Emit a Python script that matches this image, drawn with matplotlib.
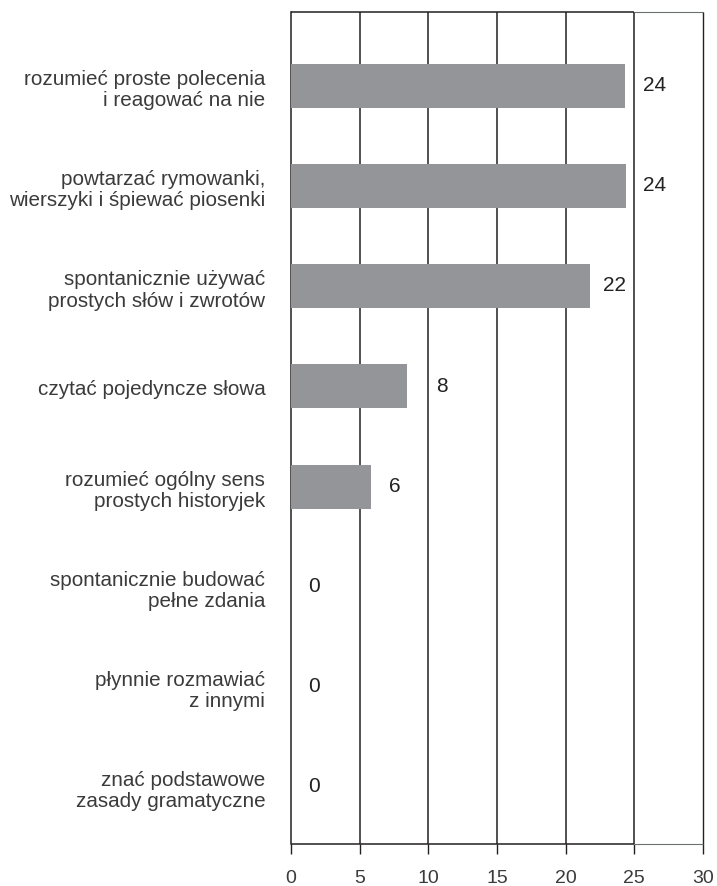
import matplotlib
matplotlib.use("Agg")
import matplotlib.pyplot as plt

# dane
categories = [
    "rozumieć proste polecenia\ni reagować na nie",
    "powtarzać rymowanki,\nwierszyki i śpiewać piosenki",
    "spontanicznie używać\nprostych słów i zwrotów",
    "czytać pojedyncze słowa",
    "rozumieć ogólny sens\nprostych historyjek",
    "spontanicznie budować\npełne zdania",
    "płynnie rozmawiać\nz innymi",
    "znać podstawowe\nzasady gramatyczne",
]
bar_values = [24.3, 24.4, 21.8, 8.45, 5.8, 0, 0, 0]
value_labels = ["24", "24", "22", "8", "6", "0", "0", "0"]
x_ticks = [0, 5, 10, 15, 20, 25, 30]

# odstęp etykiet od końca słupka (w punktach)
label_pad = [13, 12, 9, 21, 13, 12, 12, 12]

DARK = "#231f20"
TEXT = "#3b3b3b"
BAR = "#939598"
plt.rcParams["font.family"] = ["Liberation Sans", "DejaVu Sans"]

fig = plt.figure(figsize=(7.17, 8.87), dpi=100)
ax = fig.add_axes([291 / 717, 1 - 845 / 887, 412 / 717, 832 / 887])

y = list(range(len(categories)))
ax.barh(y, bar_values, height=0.44, color=BAR, zorder=3)

ax.set_xlim(0, 30)
ax.set_ylim(7.57, -0.74)

# pionowe linie siatki
for v in x_ticks[1:-1]:
    ax.axvline(v, color=DARK, lw=1.1, zorder=1)

for s in ["top", "bottom", "right"]:
    ax.spines[s].set_visible(False)
ax.spines["left"].set_color(DARK)
ax.spines["left"].set_linewidth(1.1)

top, bottom = -0.74, 7.57
ax.hlines([top, bottom], 0, 25, color=DARK, lw=1.1, zorder=4, clip_on=False)
ax.hlines([top, bottom], 25, 30, color="#6d6e71", lw=0.8, zorder=4, clip_on=False)
ax.vlines(30, top, bottom, color=DARK, lw=1.0, zorder=4, clip_on=False)

ax.set_xticks(x_ticks)
ax.set_xticklabels([str(t) for t in x_ticks])
ax.tick_params(axis="x", length=7.2, width=1, color=DARK, pad=10.5,
               labelsize=14, labelcolor=TEXT)

ax.set_yticks(y)
ax.set_yticklabels(categories, ha="right", linespacing=1.15)
ax.tick_params(axis="y", length=0, pad=18.5, labelsize=14.9, labelcolor=TEXT)

for i, (v, lab) in enumerate(zip(bar_values, value_labels)):
    ax.annotate(lab, (v, i), xytext=(label_pad[i], 1), textcoords="offset points",
                va="center", ha="left", fontsize=15, color="#222222", zorder=5)

fig.savefig("out.png", dpi=100)
